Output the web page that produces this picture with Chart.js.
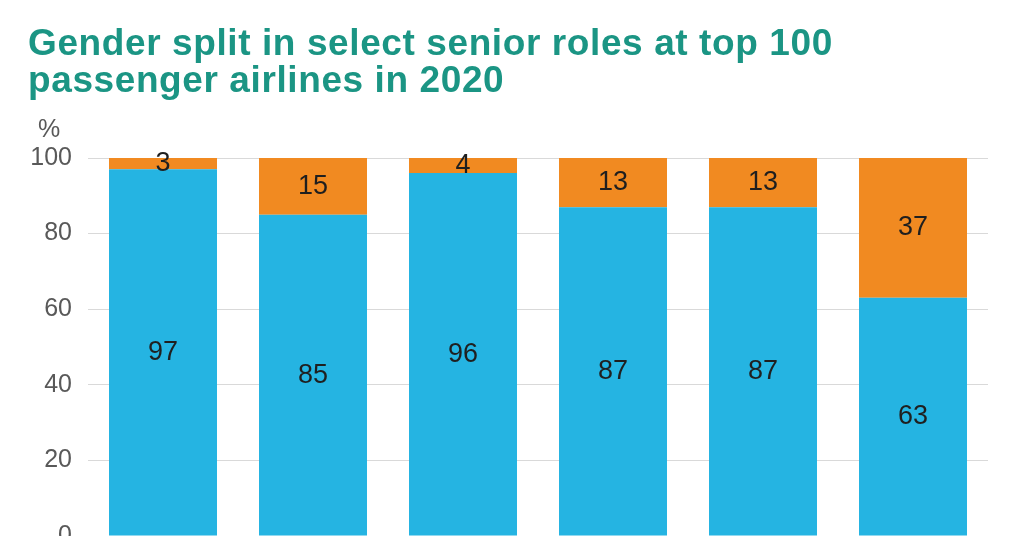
<!DOCTYPE html>
<html>
<head>
<meta charset="utf-8">
<script src="https://cdn.jsdelivr.net/npm/chart.js@4.4.1/dist/chart.umd.min.js"></script>
<style>
  html, body { margin: 0; padding: 0; background: #fff; overflow: hidden; }
  #wrap { position: relative; width: 1024px; height: 600px; }
  #title {
    position: absolute; left: 28px; top: 24px; margin: 0;
    font-family: "Liberation Sans", Arial, sans-serif; font-weight: bold;
    font-size: 37px; line-height: 37px; letter-spacing: 0.6px; color: #1b9584;
  }
  #unit {
    position: absolute; left: 38px; top: 116px; line-height: 25px;
    font-family: "Liberation Sans", Arial, sans-serif; font-size: 25px; color: #595959;
  }
  #chartBox { position: absolute; left: 0; top: 0; width: 1024px; height: 600px; }
</style>
</head>
<body>
<div id="wrap">
  <div id="chartBox"><canvas id="myChart"></canvas></div>
  <h1 id="title">Gender split in select senior roles at top 100<br>passenger airlines in 2020</h1>
  <div id="unit">%</div>
</div>
<script>
// roles (axis labels are cropped out of the picture)
const roles = ['CEO', 'CFO', 'COO', 'CCO', 'CIO', 'HR'];
const men = [97, 85, 96, 87, 87, 63];
const women = [3, 15, 4, 13, 13, 37];
const yTicks = [0, 20, 40, 60, 80, 100];

// draws the value in the middle of each bar segment
const segmentLabels = {
    id: 'segmentLabels',
    afterDatasetsDraw(chart) {
        const ctx = chart.ctx;
        ctx.save();
        ctx.font = '27px "Liberation Sans", Arial, sans-serif';
        ctx.fillStyle = '#1f1f1f';
        ctx.textAlign = 'center';
        ctx.textBaseline = 'middle';
        chart.data.datasets.forEach((ds, i) => {
            chart.getDatasetMeta(i).data.forEach((bar, j) => {
                const mid = (bar.y + bar.base) / 2;
                ctx.fillText(String(ds.data[j]), bar.x, mid);
            });
        });
        ctx.restore();
    }
};

document.addEventListener('DOMContentLoaded', function () {
    const ctx = document.getElementById('myChart').getContext('2d');
    new Chart(ctx, {
        type: 'bar',
        data: {
            labels: roles,
            datasets: [{
                label: 'Men',
                data: men,
                backgroundColor: '#25b4e2',
                barPercentage: 0.72,
                categoryPercentage: 1
            }, {
                label: 'Women',
                data: women,
                backgroundColor: '#f18a21',
                barPercentage: 0.72,
                categoryPercentage: 1
            }]
        },
        options: {
            responsive: true,
            maintainAspectRatio: false,
            animation: false,
            layout: { padding: { top: 158, bottom: 64, right: 36, left: 0 } },
            plugins: {
                legend: { display: false },
                tooltip: { enabled: false }
            },
            scales: {
                x: {
                    stacked: true,
                    display: false
                },
                y: {
                    stacked: true,
                    min: 0,
                    max: 100,
                    afterFit(scale) { scale.width = 88; },
                    afterBuildTicks(scale) { scale.ticks = yTicks.map(v => ({ value: v })); },
                    border: { display: false },
                    grid: { color: '#d9d9d9', lineWidth: 1, drawTicks: false },
                    ticks: {
                        padding: 16,
                        color: '#595959',
                        font: { family: '"Liberation Sans", Arial, sans-serif', size: 25 }
                    }
                }
            }
        },
        plugins: [segmentLabels]
    });
});
</script>
</body>
</html>
